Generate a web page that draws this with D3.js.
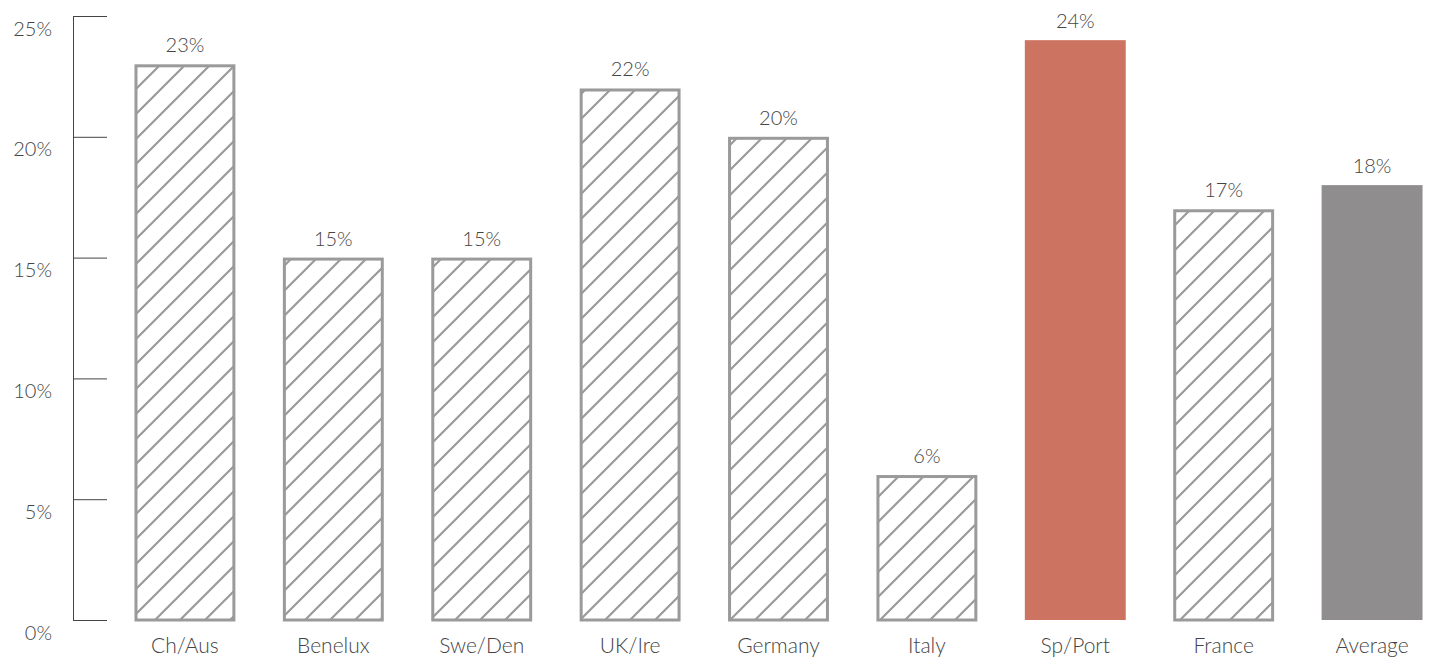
<!DOCTYPE html>
<html><head><meta charset="utf-8">
<script src="https://cdn.jsdelivr.net/npm/d3@7"></script>
<style>
body{margin:0;background:#fff;}
svg text{font-family:Lato,"Open Sans",sans-serif;fill:#444;font-weight:300;}
</style></head>
<body><svg id="c" width="1430" height="660"></svg>
<script>
const categories = ["Ch/Aus","Benelux","Swe/Den","UK/Ire","Germany","Italy","Sp/Port","France","Average"];
const values = [23,15,15,22,20,6,24,17,18];
const barStyles = ["hatch","hatch","hatch","hatch","hatch","hatch","highlight","hatch","average"];
const yTicks = [0,5,10,15,20,25];

const svg = d3.select("#c");
const defs = svg.append("defs");
const pat = defs.append("pattern").attr("id","hatch").attr("patternUnits","userSpaceOnUse")
  .attr("width",25).attr("height",25);
pat.append("path").attr("d","M-5,5 L5,-5 M0,25 L25,0 M20,30 L30,20")
  .attr("stroke","#9a9a9a").attr("stroke-width",2.2).attr("fill","none");

const x = d3.scaleBand().domain(categories).range([87,1470]).padding(0.32);
const y = d3.scaleLinear().domain([0,25]).range([620,16]);

const yAxis = d3.axisLeft(y).tickValues(yTicks).tickFormat(d=>d+"%").tickSize(-34).tickSizeOuter(0).tickPadding(21);
const ga = svg.append("g").attr("transform","translate(73,0)").call(yAxis);
ga.select(".domain").attr("stroke","#444").attr("stroke-width",1);
ga.selectAll(".tick line").attr("stroke","#444").attr("stroke-width",1);
ga.selectAll(".tick text").attr("font-size",20).attr("dy","0.95em").style("fill","#444");

const fillFor = s => s==="hatch" ? "url(#hatch)" : (s==="highlight" ? "#cd7361" : "#8f8d8e");
const bars = svg.append("g").selectAll("g").data(categories).join("g");
bars.append("rect")
  .attr("x",d=>x(d)+1.5)
  .attr("y",(d,i)=>y(values[i])+1.5)
  .attr("width",x.bandwidth()-3)
  .attr("height",(d,i)=>y(0)-y(values[i])-1.5)
  .attr("fill",(d,i)=>fillFor(barStyles[i]))
  .attr("stroke",(d,i)=>barStyles[i]==="hatch" ? "#9a9a9a" : "none")
  .attr("stroke-width",3);
bars.filter((d,i)=>barStyles[i]!=="hatch").select("rect")
  .attr("x",d=>x(d)).attr("width",x.bandwidth())
  .attr("y",(d,i)=>y(values[categories.indexOf(d)]))
  .attr("height",d=>y(0)-y(values[categories.indexOf(d)]));

svg.append("g").selectAll("text").data(categories).join("text")
  .attr("x",d=>x(d)+x.bandwidth()/2)
  .attr("y",(d,i)=>y(values[i])-12)
  .attr("text-anchor","middle").attr("font-size",20)
  .text((d,i)=>values[i]+"%");

svg.append("g").selectAll("text").data(categories).join("text")
  .attr("x",d=>x(d)+x.bandwidth()/2)
  .attr("y",653)
  .attr("text-anchor","middle").attr("font-size",21)
  .text(d=>d);
</script></body></html>
